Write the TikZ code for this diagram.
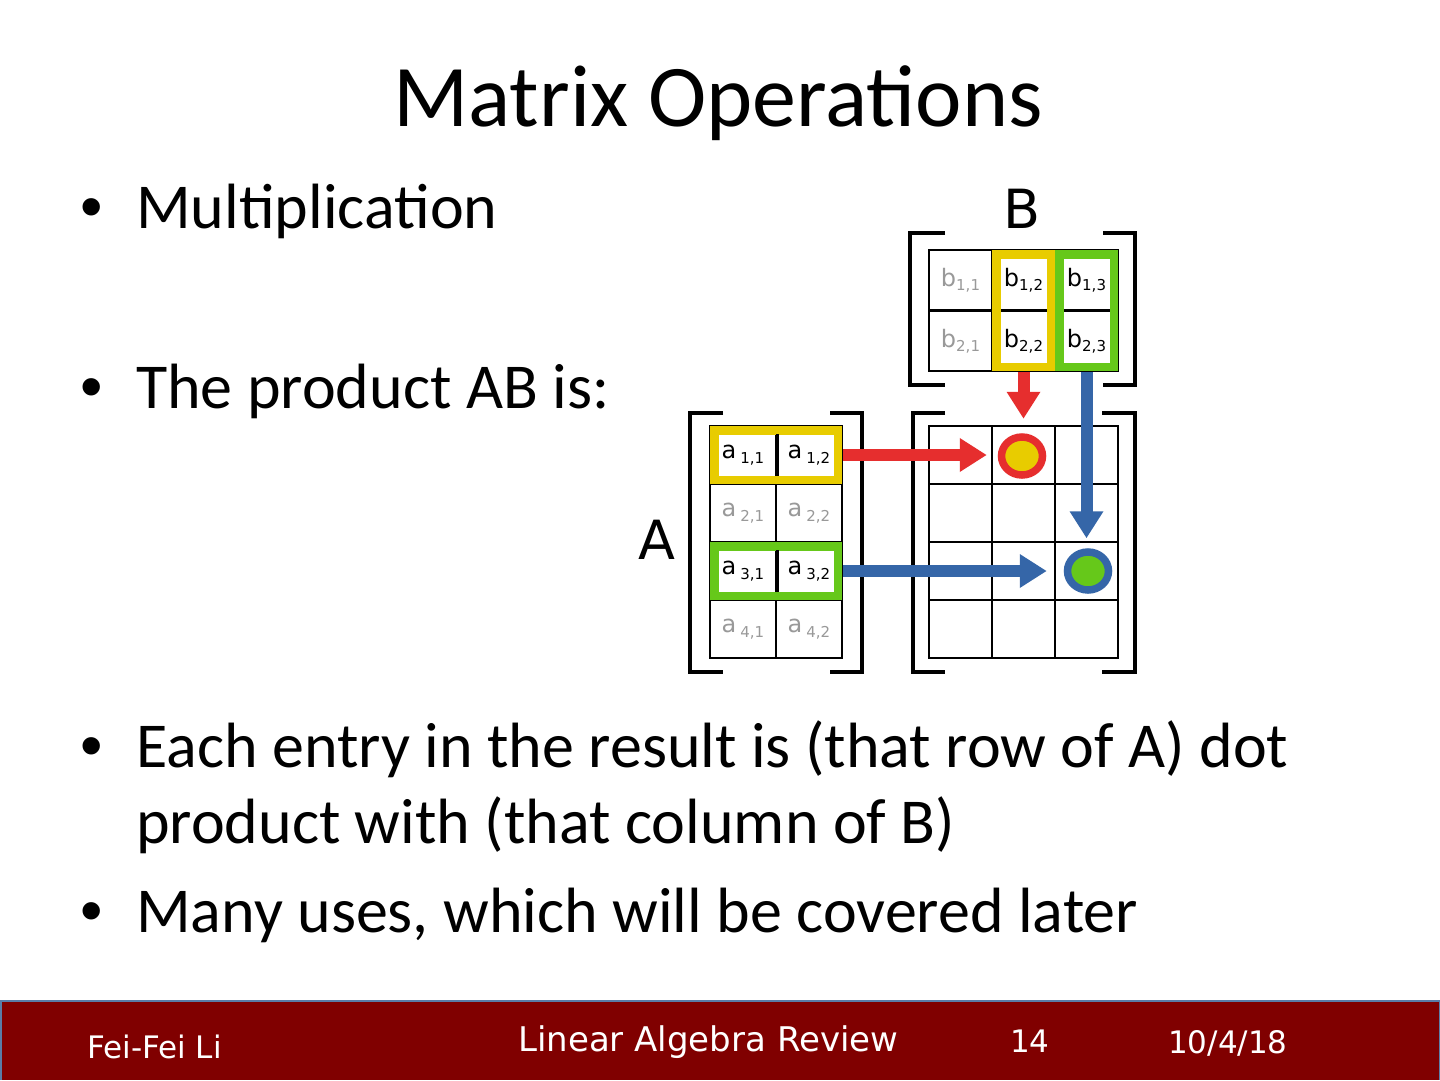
\documentclass[tikz,border=0pt]{standalone}
\usepackage{fontspec}
\setmainfont{Carlito}
\newfontfamily\dejavu{DejaVu Sans}
\newfontfamily\arialf{Liberation Sans}
\usetikzlibrary{arrows.meta,shapes.geometric}
\definecolor{footred}{HTML}{800000}
\definecolor{footborder}{HTML}{5A7DA8}
\definecolor{hlyellow}{HTML}{E8CC00}
\definecolor{hlgreen}{HTML}{66C81A}
\definecolor{arrred}{HTML}{E62E2E}
\definecolor{arrblue}{HTML}{3566A8}
\definecolor{txtgray}{HTML}{999999}
\newcommand\bEnt[1]{{\dejavu\fontsize{24}{24}\selectfont b\raisebox{-4pt}{\fontsize{15}{15}\selectfont #1}}}
\newcommand\aEnt[1]{{\dejavu\fontsize{24}{24}\selectfont a\,\raisebox{-5pt}{\fontsize{15}{15}\selectfont #1}}}
\begin{document}
\begin{tikzpicture}[x=1pt,y=-1pt,
  bodytext/.style={anchor=base west,inner sep=0,font=\fontsize{64}{77}\selectfont},
  bulletmark/.style={anchor=base west,inner sep=0,font=\arialf\fontsize{64}{64}\selectfont},
  foot/.style={anchor=base west,inner sep=0,text=white,font=\dejavu\fontsize{31}{31}\selectfont},
  cellB/.style={draw=black,line width=2.5pt,fill=white,minimum width=63pt,minimum height=60.5pt,inner sep=0},
  cellA/.style={draw=black,line width=2.5pt,fill=white,minimum width=66pt,minimum height=58pt,inner sep=0},
  cellC/.style={draw=black,line width=2.5pt,fill=white,minimum width=63pt,minimum height=58pt,inner sep=0},
  bracket/.style={draw=black,line width=4pt},
  hlY/.style={draw=hlyellow,line width=8.5pt},
  hlG/.style={draw=hlgreen,line width=8.5pt},
  redarr/.style={draw=arrred,line width=12pt,-{Triangle[length=27pt,width=32pt]}},
  bluearr/.style={draw=arrblue,line width=12pt,-{Triangle[length=27pt,width=32pt]}},
  mlabel/.style={font=\dejavu\fontsize{54}{54}\selectfont,inner sep=0}
]
\useasboundingbox (0,0) rectangle (1440,1080);
% title
\node[anchor=base,inner sep=0,font=\fontsize{88}{88}\selectfont] (title) at (718,126) {Matrix Operations};
% bullets
\node[bulletmark] (bu1) at (80,228) {•};
\node[bodytext] (t1) at (136,228) {Multiplication};
\node[bulletmark] (bu2) at (80,408) {•};
\node[bodytext] (t2) at (136,408) {The product AB is:};
\node[bulletmark] (bu3) at (80,767) {•};
\node[bodytext] (t3) at (136,767) {Each entry in the result is (that row of A) dot};
\node[bodytext] (t3b) at (136,843) {product with (that column of B)};
\node[bulletmark] (bu4) at (80,932) {•};
\node[bodytext] (t4) at (136,932) {Many uses, which will be covered later};
% matrix B
\node[mlabel] (labB) at (1022,209) {B};
\draw[bracket] (945,233) -- (910,233) -- (910,385) -- (945,385);
\draw[bracket] (1103,233) -- (1135,233) -- (1135,385) -- (1103,385);
\node[cellB,text=txtgray] (b11) at (960.5,280.25) {\bEnt{1,1}};
\node[cellB] (b12) at (1023.5,280.25) {\bEnt{1,2}};
\node[cellB] (b13) at (1086.5,280.25) {\bEnt{1,3}};
\node[cellB,text=txtgray] (b21) at (960.5,340.75) {\bEnt{2,1}};
\node[cellB] (b22) at (1023.5,340.75) {\bEnt{2,2}};
\node[cellB] (b23) at (1086.5,340.75) {\bEnt{2,3}};
\draw[hlY] ([shift={(5.5,5.5)}]b12.north west) rectangle ([shift={(-5.5,-5.5)}]b22.south east);
\draw[hlG] ([shift={(5.5,5.5)}]b13.north west) rectangle ([shift={(-5.5,-5.5)}]b23.south east);
% matrix A
\node[mlabel] (labA) at (657,540) {A};
\draw[bracket] (723,413) -- (690,413) -- (690,672) -- (723,672);
\draw[bracket] (830,413) -- (862,413) -- (862,672) -- (830,672);
\node[cellA] (a11) at (743,455) {\aEnt{1,1}};
\node[cellA] (a12) at (809,455) {\aEnt{1,2}};
\node[cellA,text=txtgray] (a21) at (743,513) {\aEnt{2,1}};
\node[cellA,text=txtgray] (a22) at (809,513) {\aEnt{2,2}};
\node[cellA] (a31) at (743,571) {\aEnt{3,1}};
\node[cellA] (a32) at (809,571) {\aEnt{3,2}};
\node[cellA,text=txtgray] (a41) at (743,629) {\aEnt{4,1}};
\node[cellA,text=txtgray] (a42) at (809,629) {\aEnt{4,2}};
\draw[hlY] ([shift={(5.5,5.5)}]a11.north west) rectangle ([shift={(-5.5,-5.5)}]a12.south east);
\draw[hlG] ([shift={(5.5,5.5)}]a31.north west) rectangle ([shift={(-5.5,-5.5)}]a32.south east);
\draw[black,line width=2.5pt] ([yshift=-9.5pt]a11.north east) -- ([yshift=9.5pt]a11.south east);
\draw[black,line width=2.5pt] ([yshift=-9.5pt]a31.north east) -- ([yshift=9.5pt]a31.south east);
% result matrix
\draw[bracket] (945,413) -- (913,413) -- (913,672) -- (945,672);
\draw[bracket] (1102,413) -- (1135,413) -- (1135,672) -- (1102,672);
\foreach \r/\yy in {1/455,2/513,3/571,4/629}{
  \foreach \c/\xx in {1/960.5,2/1023.5,3/1086.5}{
    \node[cellC] (c\r\c) at (\xx,\yy) {};
  }
}
% arrows
\draw[redarr] (a12.east) -- ([xshift=-4pt]c12.west);
\draw[redarr] (b22.south) -- ([yshift=6pt]c12.north);
\draw[bluearr] (b23.south) -- ([yshift=5pt]c23.south);
\draw[bluearr] (a32.east) -- ([xshift=-7pt]c33.west);
% result dots
\node[ellipse,draw=arrred,line width=7.5pt,fill=hlyellow,minimum width=41pt,minimum height=38pt,inner sep=0] (dotY) at (1022,456) {};
\node[ellipse,draw=arrblue,line width=7.5pt,fill=hlgreen,minimum width=41pt,minimum height=38pt,inner sep=0] (dotG) at (1088,571) {};
% footer
\fill[footred] (0,1001) rectangle (1440,1080);
\draw[footborder,line width=1.5pt] (0.75,1080) -- (0.75,1001) -- (1439.25,1001) -- (1439.25,1080);
\node[foot] (f1) at (87,1058) {Fei-Fei Li};
\node[foot,font=\dejavu\fontsize{34}{34}\selectfont] (f2) at (518,1051) {Linear Algebra Review};
\node[foot] (f3) at (1010,1052) {14};
\node[foot] (f4) at (1168,1053) {10/4/18};
\end{tikzpicture}
\end{document}
